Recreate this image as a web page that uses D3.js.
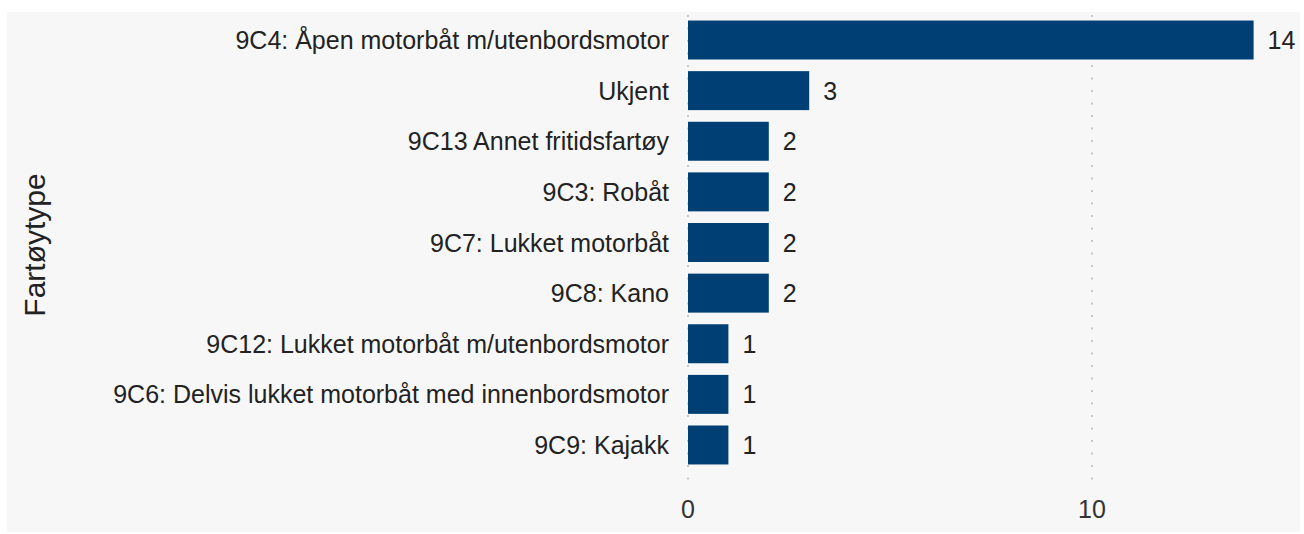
<!DOCTYPE html>
<html>
<head>
<meta charset="utf-8">
<script src="https://cdn.jsdelivr.net/npm/d3@7"></script>
<style>
  body { margin: 0; background: #fff; }
  text { font-family: "Liberation Sans", Arial, sans-serif; }
</style>
</head>
<body>
<script>
// Data
const categories = [
  "9C4: Åpen motorbåt m/utenbordsmotor",
  "Ukjent",
  "9C13 Annet fritidsfartøy",
  "9C3: Robåt",
  "9C7: Lukket motorbåt",
  "9C8: Kano",
  "9C12: Lukket motorbåt m/utenbordsmotor",
  "9C6: Delvis lukket motorbåt med innenbordsmotor",
  "9C9: Kajakk"
];
const counts = [14, 3, 2, 2, 2, 2, 1, 1, 1];
const xTicks = [0, 10];
const yTitle = "Fartøytype";

const width = 1304;
const height = 534;

const svg = d3.select("body").append("svg")
  .attr("width", width)
  .attr("height", height);

// panel background
svg.append("rect")
  .attr("x", 7).attr("y", 12)
  .attr("width", 1293).attr("height", 520)
  .attr("fill", "#f7f7f7");

const x = d3.scaleLinear().domain([0, 10]).range([688, 1092]);
const y = d3.scaleBand().domain(categories).range([14.7, 470.3])
  .paddingInner(0.23).paddingOuter(0.115);

// dotted vertical gridlines
svg.selectAll("line.grid")
  .data(xTicks)
  .enter().append("line")
  .attr("class", "grid")
  .attr("x1", d => x(d)).attr("x2", d => x(d))
  .attr("y1", 15).attr("y2", 484)
  .attr("stroke", "#c8c8c8")
  .attr("stroke-width", 2)
  .attr("stroke-dasharray", "2,10.5");

// x tick labels
svg.selectAll("text.xtick")
  .data(xTicks)
  .enter().append("text")
  .attr("class", "xtick")
  .attr("x", d => x(d))
  .attr("y", 518)
  .attr("text-anchor", "middle")
  .style("font-size", "25px")
  .style("fill", "#333")
  .text(d => d);

// bars
svg.selectAll("rect.bar")
  .data(categories)
  .enter().append("rect")
  .attr("class", "bar")
  .attr("x", x(0))
  .attr("y", d => y(d))
  .attr("width", (d, i) => x(counts[i]) - x(0))
  .attr("height", y.bandwidth())
  .attr("fill", "#003f73");

// value labels
svg.selectAll("text.val")
  .data(categories)
  .enter().append("text")
  .attr("class", "val")
  .attr("x", (d, i) => x(counts[i]) + 14)
  .attr("y", d => y(d) + y.bandwidth() / 2)
  .attr("dy", "0.36em")
  .style("font-size", "25px")
  .style("fill", "#222")
  .text((d, i) => counts[i]);

// category labels
svg.selectAll("text.cat")
  .data(categories)
  .enter().append("text")
  .attr("class", "cat")
  .attr("x", 669)
  .attr("y", d => y(d) + y.bandwidth() / 2)
  .attr("dy", "0.36em")
  .attr("text-anchor", "end")
  .style("font-size", "25px")
  .style("fill", "#222")
  .text(d => d);

// y axis title
svg.append("text")
  .attr("transform", "translate(45,245) rotate(-90)")
  .attr("text-anchor", "middle")
  .style("font-size", "30px")
  .style("fill", "#222")
  .text(yTitle);
</script>
</body>
</html>
